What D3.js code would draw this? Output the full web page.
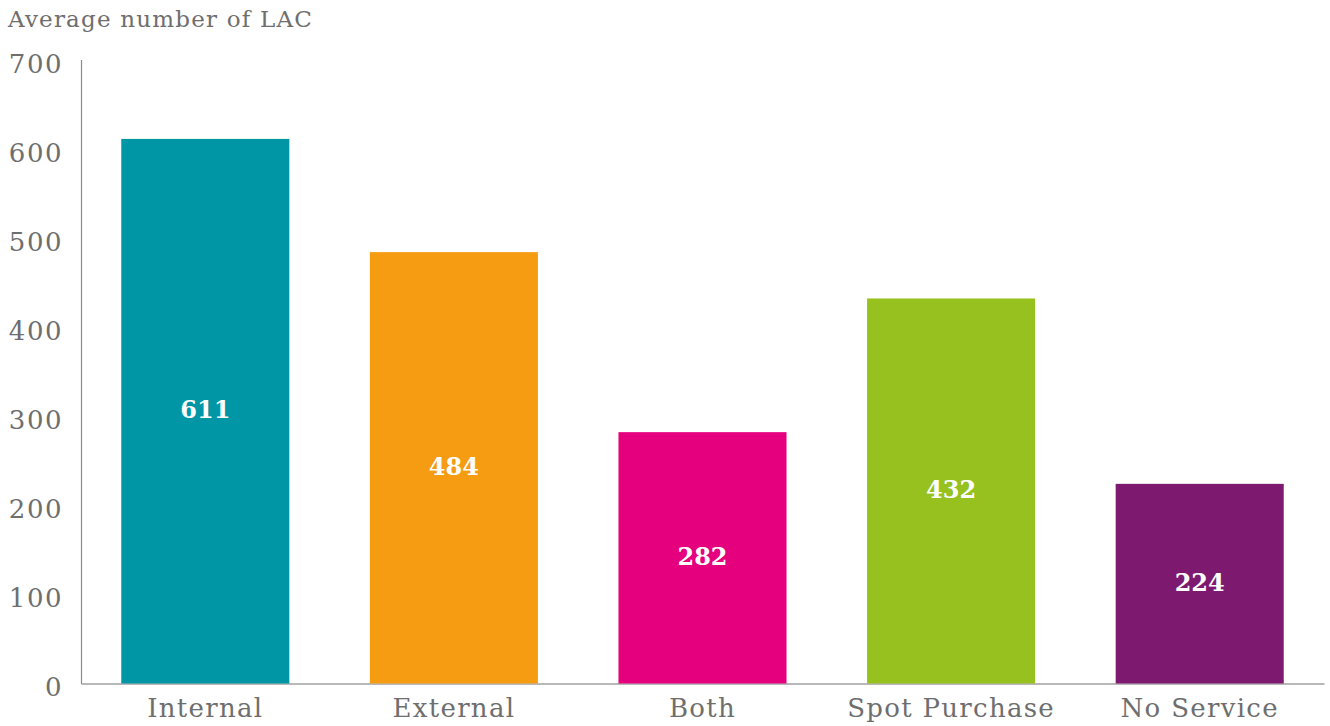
<!DOCTYPE html>
<html><head><meta charset="utf-8">
<script src="https://cdn.jsdelivr.net/npm/d3@7"></script>
<style>body{margin:0;background:#fff}</style>
</head><body>
<svg id="c" width="1330" height="726"></svg>
<script>
const categories = ["Internal","External","Both","Spot Purchase","No Service"];
const values = [611,484,282,432,224];
const colors = ["#0096A6","#F59C12","#E5007D","#96C11F","#7E1970"];
const yTicks = [0,100,200,300,400,500,600,700];
const yTitle = "Average number of LAC";

(function(){
const svg = d3.select("#c");
const font = "'DejaVu Serif', serif";
const textColor = "#6e6e6e";
const mLeft = 81, mRight = 1324, mTop = 59.6, mBottom = 683.5;

const x = d3.scaleBand().domain(categories).range([mLeft, mRight]).paddingInner(0.324).paddingOuter(0.162);
const y = d3.scaleLinear().domain([0,700]).range([mBottom, mTop]);

// y axis
const ya = svg.append("g").attr("transform",`translate(${mLeft},0)`)
  .call(d3.axisLeft(y).tickValues(yTicks).tickSize(0).tickPadding(18).tickFormat(d3.format("d")));
ya.select(".domain").attr("stroke","#8a8a8a").attr("stroke-width",1.2);
ya.selectAll("text").attr("font-family",font).attr("font-size",26).attr("letter-spacing",1.5)
  .attr("fill",textColor).attr("dy","0.48em");

// x axis
const xa = svg.append("g").attr("transform",`translate(0,${mBottom})`)
  .call(d3.axisBottom(x).tickSize(0).tickPadding(15));
xa.select(".domain").attr("stroke","#a0a0a0").attr("stroke-width",1.5);
xa.selectAll("text").attr("font-family",font).attr("font-size",26).attr("letter-spacing",1.3).attr("fill",textColor);

// bars
svg.append("g").selectAll("rect").data(values).join("rect")
  .attr("x",(d,i)=>x(categories[i])).attr("width",x.bandwidth())
  .attr("y",d=>y(d)).attr("height",d=>y(0)-y(d))
  .attr("fill",(d,i)=>colors[i]);

// value labels
svg.append("g").selectAll("text").data(values).join("text")
  .attr("x",(d,i)=>x(categories[i])+x.bandwidth()/2)
  .attr("y",d=>y(d/2)).attr("dy","0.3em")
  .attr("text-anchor","middle").attr("font-family",font).attr("font-weight","bold")
  .attr("font-size",24).attr("fill","#fff").text(d=>d);

// title
svg.append("text").attr("x",8).attr("y",27).attr("font-family",font).attr("font-size",23)
  .attr("letter-spacing",1.2).attr("fill",textColor).text(yTitle);
})();
</script>
</body></html>
